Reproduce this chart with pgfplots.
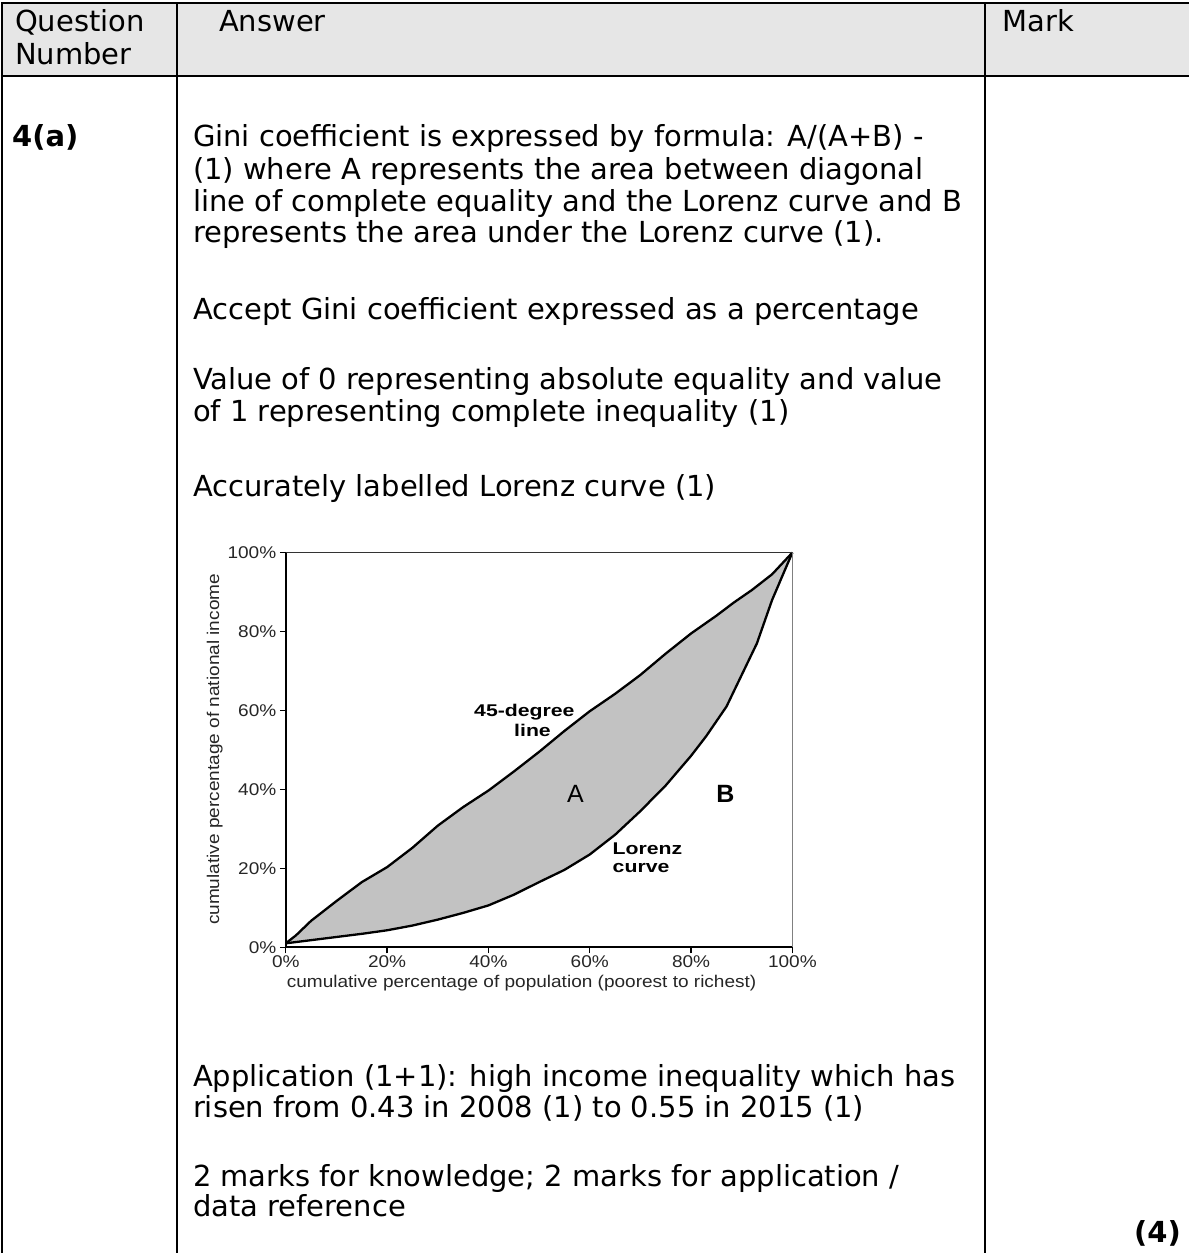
\documentclass[border=0pt]{standalone}
\usepackage{fontspec}
\setmainfont{DejaVu Sans}
\newfontfamily\chartfont[FakeStretch=1.12]{Liberation Sans}
\newfontfamily\chartboldfont[FakeStretch=1.25]{Liberation Sans Bold}
\newfontfamily\plainarial{Liberation Sans}
\usepackage{pgfplots}
\pgfplotsset{compat=1.18}
\usepgfplotslibrary{fillbetween}
\definecolor{hdr}{RGB}{230,230,230}
\definecolor{giniGray}{RGB}{194,194,194}
\newcommand{\bodyfont}{\fontsize{29}{31.5}\selectfont}
\newcommand{\tickfont}{\chartfont\fontsize{17}{17}\selectfont}
\newcommand{\lblfont}{\chartboldfont\fontsize{17}{17}\selectfont}
\begin{document}
\begin{tikzpicture}[txt/.style={anchor=base west, inner sep=0pt, font=\bodyfont}]
\path (0pt,0pt) rectangle (1189pt,-1254pt);
% header
\fill[hdr] (0pt,-3pt) rectangle (1189pt,-76pt);
\draw[line width=2pt] (0pt,-3pt) -- (1189pt,-3pt);
\draw[line width=2pt] (0pt,-76pt) -- (1189pt,-76pt);
\draw[line width=2pt] (1pt,-3pt) -- (1pt,-1254pt);
\draw[line width=2pt] (176.5pt,-3pt) -- (176.5pt,-1254pt);
\draw[line width=2pt] (985pt,-3pt) -- (985pt,-1254pt);
\node[txt] at (14pt,-32pt) {Question};
\node[txt] at (14pt,-65pt) {Number};
\node[txt] at (218pt,-32pt) {Answer};
\node[txt] at (1002pt,-32pt) {Mark};
% body
\node[txt, font=\bodyfont\bfseries] at (11pt,-147pt) {4(a)};
\node[txt] at (192pt,-147pt) {Gini coefficient is expressed by formula: A/(A+B) -};
\node[txt] at (192pt,-180pt) {(1) where A represents the area between diagonal};
\node[txt] at (192pt,-211.5pt) {line of complete equality and the Lorenz curve and B};
\node[txt] at (192pt,-243pt) {represents the area under the Lorenz curve (1).};
\node[txt] at (192pt,-320pt) {Accept Gini coefficient expressed as a percentage};
\node[txt] at (192pt,-390pt) {Value of 0 representing absolute equality and value};
\node[txt] at (192pt,-421.5pt) {of 1 representing complete inequality (1)};
\node[txt] at (192pt,-496.5pt) {Accurately labelled Lorenz curve (1)};
\node[txt] at (192pt,-1087pt) {Application (1+1): high income inequality which has};
\node[txt] at (192pt,-1118pt) {risen from 0.43 in 2008 (1) to 0.55 in 2015 (1)};
\node[txt] at (192pt,-1187pt) {2 marks for knowledge; 2 marks for application /};
\node[txt] at (192pt,-1217pt) {data reference};
\node[anchor=base east, inner sep=0pt, font=\bodyfont\bfseries] at (1181pt,-1243pt) {(4)};
% chart
\begin{axis}[
  at={(285pt,-948pt)}, anchor=south west,
  scale only axis, width=507pt, height=395pt,
  xmin=0, xmax=100, ymin=0, ymax=100,
  axis line style={draw=none},
  xtick={0,20,40,60,80,100},
  xticklabels={0\%,20\%,40\%,60\%,80\%,100\%},
  ytick={0,20,40,60,80,100},
  yticklabels={0\%,20\%,40\%,60\%,80\%,100\%},
  tick align=outside, major tick length=6pt,
  xtick pos=bottom, ytick pos=left,
  tick style={black, line width=1.2pt},
  tick label style={font=\tickfont, text=black!85},
  xticklabel style={yshift=1pt},
  clip=false,
]
\addplot[draw=none, name path=upper, forget plot] coordinates {
(0,1) (2,3) (5,6.7) (10,11.7) (15,16.5) (20,20.3) (25,25.2) (30,30.8) (35,35.5) (40,39.7) (45,44.5) (50,49.5) (55,54.8) (60,59.8) (65,64.2) (70,69) (75,74.4) (80,79.5) (85,84) (88.4,87.3) (92,90.5) (96,94.5) (100,100)};
\addplot[draw=none, name path=lower, forget plot] coordinates {
(0,1) (5,1.8) (10,2.6) (15,3.4) (20,4.3) (25,5.5) (30,7) (35,8.7) (40,10.6) (45,13.3) (50,16.5) (55,19.6) (60,23.5) (65,28.5) (70,34.5) (75,41) (80,48.5) (83,53.5) (87,61) (90,69) (93,77) (96,88) (100,100)};
\addplot[fill=giniGray, draw=none, forget plot] fill between[of=upper and lower];
\addplot[black, line width=2.3pt, forget plot] coordinates {
(0,1) (2,3) (5,6.7) (10,11.7) (15,16.5) (20,20.3) (25,25.2) (30,30.8) (35,35.5) (40,39.7) (45,44.5) (50,49.5) (55,54.8) (60,59.8) (65,64.2) (70,69) (75,74.4) (80,79.5) (85,84) (88.4,87.3) (92,90.5) (96,94.5) (100,100)};
\addplot[black, line width=2.3pt, forget plot] coordinates {
(0,1) (5,1.8) (10,2.6) (15,3.4) (20,4.3) (25,5.5) (30,7) (35,8.7) (40,10.6) (45,13.3) (50,16.5) (55,19.6) (60,23.5) (65,28.5) (70,34.5) (75,41) (80,48.5) (83,53.5) (87,61) (90,69) (93,77) (96,88) (100,100)};
\draw[black, line width=2pt] (axis cs:0,100) -- (axis cs:0,0) -- (axis cs:100,0);
\draw[black!80, line width=1.2pt] (axis cs:0,100) -- (axis cs:100,100);
\draw[gray, line width=1.5pt] (axis cs:100,100) -- (axis cs:100,0);
\node[font=\lblfont, anchor=base, inner sep=0pt] at (axis cs:47.1,58.5) {45-degree};
\node[font=\lblfont, anchor=base, inner sep=0pt] at (axis cs:48.7,53.4) {line};
\node[font=\plainarial\fontsize{25}{25}\selectfont, anchor=base, inner sep=0pt] at (axis cs:57.2,36.7) {A};
\node[font=\plainarial\bfseries\fontsize{25}{25}\selectfont, anchor=base, inner sep=0pt] at (axis cs:86.8,36.7) {B};
\node[font=\lblfont, anchor=base west, inner sep=0pt] at (axis cs:64.5,23.5) {Lorenz};
\node[font=\lblfont, anchor=base west, inner sep=0pt] at (axis cs:64.5,19) {curve};
\end{axis}
\node[font=\tickfont, text=black!85, anchor=base, inner sep=0pt] at (521pt,-988pt) {cumulative percentage of population (poorest to richest)};
\node[font=\tickfont, text=black!85, rotate=90, anchor=center, inner sep=0pt] at (214pt,-750pt) {cumulative percentage of national income};
\end{tikzpicture}
\end{document}
